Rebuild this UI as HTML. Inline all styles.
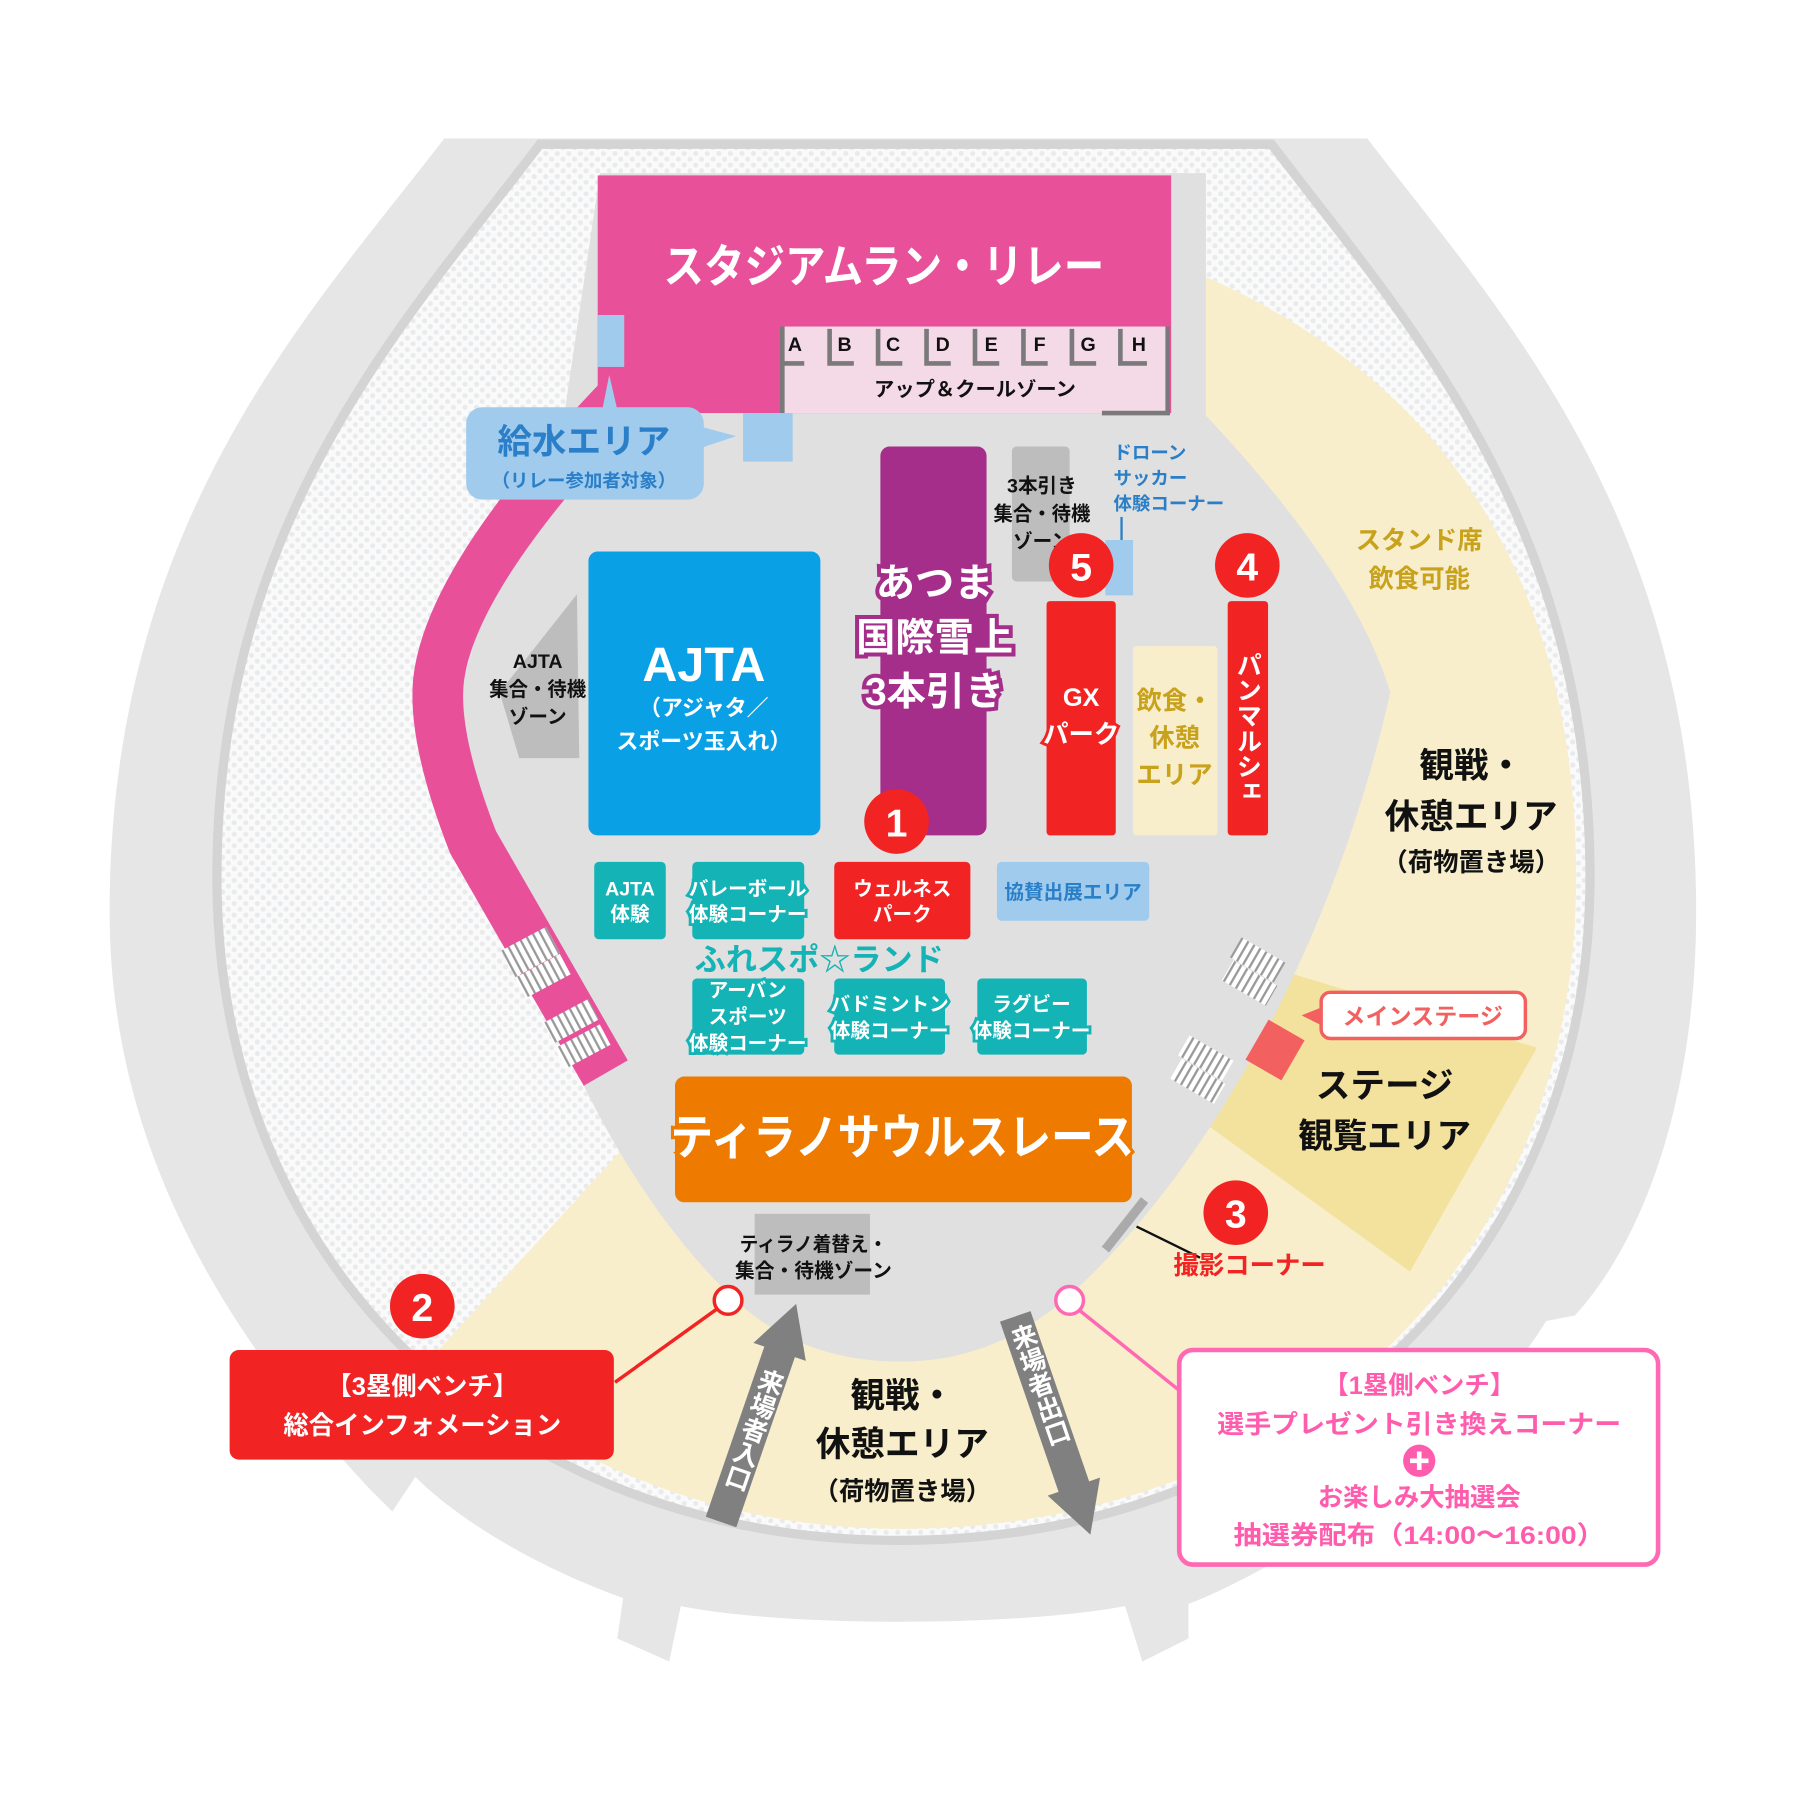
<!DOCTYPE html>
<html><head><meta charset="utf-8"><style>
html,body{margin:0;padding:0;background:#fff;}
svg{display:block;}
text{font-family:"Liberation Sans","Noto Sans CJK JP",sans-serif;font-weight:bold;text-anchor:middle;}
</style></head><body>
<svg width="1800" height="1800" viewBox="0 0 1560 1560" xmlns="http://www.w3.org/2000/svg">
<defs>
<pattern id="dots" width="10" height="10" patternUnits="userSpaceOnUse">
<rect width="10" height="10" fill="#fafafa"/><circle cx="3" cy="3" r="2.2" fill="#e8eaec"/><circle cx="8" cy="8" r="2.2" fill="#e8eaec"/>
</pattern>
<pattern id="stripe" width="6" height="6" patternUnits="userSpaceOnUse">
<rect width="6" height="6" fill="#fff"/><rect width="2" height="6" fill="#999"/>
</pattern>
</defs>
<rect width="1560" height="1560" fill="#fff"/>
<path d="M385,120 L1185,120 C1300,270 1470,450 1470,790 C1470,960 1420,1080 1365,1140 L1340,1145 C1250,1290 1060,1380 1030,1390 L1030,1420 L990,1440 L975,1392 C880,1410 680,1410 590,1392 L580,1440 L535,1420 L540,1385 C470,1360 400,1320 360,1280 L340,1310 L320,1290 C180,1140 95,980 95,790 C95,450 270,270 385,120 Z" fill="#e6e6e6"/>
<path d="M468,125 L1102,125 C1220,280 1378,450 1378,760 C1378,1100 1120,1335 780,1335 C440,1335 188,1100 188,760 C188,450 350,280 468,125 Z" fill="url(#dots)" stroke="#d4d4d4" stroke-width="8"/>
<path d="M1045,240 C1250,330 1366,500 1366,760 C1366,1100 1120,1325 780,1325 C600,1325 460,1250 380,1170 L545,990 L1045,360 Z" fill="#f8eecb"/>
<path d="M1100,838 L1332,908 L1222,1102 L1042,972 Z" fill="#f3e29d"/>
<path d="M520,150 L1045,150 L1045,360 C1120,440 1180,520 1205,600 C1160,800 1060,1000 930,1120 C880,1165 830,1180 780,1180 C720,1180 670,1160 630,1120 C560,1050 510,960 470,860 L390,640 C410,540 440,470 480,420 Z" fill="#e0e0e0"/>
<path d="M538,345 Q390,500 380,590 Q375,640 410,730 L525,930" fill="none" stroke="#e8519a" stroke-width="44"/>
<g transform="rotate(-28 460 825)"><rect x="438" y="812" width="44" height="26" fill="url(#stripe)"/></g>
<g transform="rotate(-28 470 845)"><rect x="448" y="836" width="44" height="20" fill="url(#stripe)"/></g>
<g transform="rotate(-28 495 885)"><rect x="473" y="875" width="44" height="20" fill="url(#stripe)"/></g>
<g transform="rotate(-28 505 907)"><rect x="483" y="897" width="44" height="20" fill="url(#stripe)"/></g>
<g transform="rotate(30 1090 832)"><rect x="1068" y="822" width="44" height="20" fill="url(#stripe)"/></g>
<g transform="rotate(30 1083 852)"><rect x="1061" y="842" width="44" height="20" fill="url(#stripe)"/></g>
<g transform="rotate(30 1045 917)"><rect x="1023" y="907" width="44" height="20" fill="url(#stripe)"/></g>
<g transform="rotate(30 1038 937)"><rect x="1016" y="927" width="44" height="20" fill="url(#stripe)"/></g>
<rect x="1015" y="152" width="30" height="208" fill="#e0e0e0"/>
<rect x="518" y="152" width="497" height="206" fill="#e8519a"/>
<rect x="678" y="283" width="334" height="75" fill="#f4d9e7"/>
<g fill="none" stroke="#7a7a7a" stroke-width="4">
<path d="M678,283 L678,358"/><path d="M1012,283 L1012,358 L955,358"/>
<path d="M678,315 L697,315 M719,285 L719,315 L740,315 M761,285 L761,315 L782,315 M803,285 L803,315 L824,315 M845,285 L845,315 L866,315 M887,285 L887,315 L908,315 M929,285 L929,315 L950,315 M971,285 L971,315 L994,315"/>
</g>
<g font-size="17" fill="#111">
<text x="689" y="304">A</text><text x="732" y="304">B</text><text x="774" y="304">C</text><text x="817" y="304">D</text><text x="859" y="304">E</text><text x="901" y="304">F</text><text x="943" y="304">G</text><text x="987" y="304">H</text>
<text x="845" y="343" font-size="17" textLength="175" lengthAdjust="spacingAndGlyphs">アップ＆クールゾーン</text>
</g>
<text x="766" y="245" font-size="40" fill="#fff" textLength="382" lengthAdjust="spacingAndGlyphs">スタジアムラン・リレー</text>
<rect x="518" y="273" width="23" height="45" fill="#a0cbed"/>
<rect x="644" y="358" width="43" height="42" fill="#a0cbed"/>
<path d="M522,355 L528,325 L535,355 Z M608,370 L638,378 L608,388 Z" fill="#a0cbed"/>
<rect x="404" y="353" width="206" height="80" rx="14" fill="#a0cbed"/>
<text x="506" y="393" font-size="30" fill="#2a7fc8">給水エリア</text>
<text x="506" y="422" font-size="16" fill="#2a7fc8">（リレー参加者対象）</text>
<rect x="763" y="387" width="92" height="337" rx="8" fill="#a42e8a"/>
<g font-size="34" fill="#fff" stroke="#a42e8a" stroke-width="7" paint-order="stroke">
<text x="810" y="517">あつま</text><text x="810" y="564">国際雪上</text><text x="810" y="611">3本引き</text></g>
<rect x="877" y="387" width="50" height="117" rx="4" fill="#bdbdbd"/>
<g font-size="17" fill="#111"><text x="903" y="427">3本引き</text><text x="903" y="451" textLength="84" lengthAdjust="spacingAndGlyphs">集合・待機</text><text x="903" y="475">ゾーン</text></g>
<g font-size="16" fill="#2a7fc8"><text x="965" y="398" style="text-anchor:start">ドローン</text><text x="965" y="420" style="text-anchor:start">サッカー</text><text x="965" y="442" style="text-anchor:start">体験コーナー</text></g>
<line x1="972" y1="448" x2="972" y2="482" stroke="#2a7fc8" stroke-width="2"/>
<rect x="958" y="468" width="24" height="48" fill="#a0cbed"/>
<rect x="907" y="521" width="60" height="203" rx="3" fill="#f22323"/>
<g font-size="22" fill="#fff" stroke="#f22323" stroke-width="5" paint-order="stroke"><text x="937" y="612">GX</text><text x="937" y="644">パーク</text></g>
<rect x="982" y="560" width="73" height="164" rx="3" fill="#f8eecb"/>
<g font-size="22" fill="#c9a21c"><text x="1018" y="615">飲食・</text><text x="1018" y="647">休憩</text><text x="1018" y="679">エリア</text></g>
<rect x="1064" y="521" width="35" height="203" rx="3" fill="#f22323"/>
<text x="1081" y="565" font-size="22" fill="#fff" style="writing-mode:vertical-rl;text-anchor:start">パンマルシェ</text>
<circle cx="937" cy="490" r="28" fill="#f22323"/><text x="937" y="503" font-size="34" fill="#fff">5</text>
<circle cx="1081" cy="490" r="28" fill="#f22323"/><text x="1081" y="503" font-size="34" fill="#fff">4</text>
<rect x="510" y="478" width="201" height="246" rx="8" fill="#0aa0e6"/>
<text x="610" y="590" font-size="42" fill="#fff">AJTA</text>
<text x="610" y="620" font-size="19" fill="#fff">（アジャタ／</text>
<text x="610" y="649" font-size="19" fill="#fff">スポーツ玉入れ）</text>
<path d="M500,515 L502,657 L450,657 L433,600 Z" fill="#bdbdbd"/>
<g font-size="17" fill="#111"><text x="466" y="579">AJTA</text><text x="466" y="603" textLength="84" lengthAdjust="spacingAndGlyphs">集合・待機</text><text x="466" y="627">ゾーン</text></g>
<circle cx="777" cy="712" r="28" fill="#f22323"/><text x="777" y="725" font-size="34" fill="#fff">1</text>
<rect x="515" y="747" width="62" height="67" rx="4" fill="#14b3b5"/>
<rect x="600" y="747" width="97" height="67" rx="4" fill="#14b3b5"/>
<rect x="723" y="747" width="118" height="67" rx="4" fill="#f22323"/>
<rect x="864" y="747" width="132" height="51" rx="4" fill="#a0cbed"/>
<rect x="600" y="848" width="97" height="66" rx="4" fill="#14b3b5"/>
<rect x="723" y="848" width="96" height="66" rx="4" fill="#14b3b5"/>
<rect x="847" y="848" width="95" height="66" rx="4" fill="#14b3b5"/>
<g font-size="17" fill="#fff" stroke="#14b3b5" stroke-width="5" paint-order="stroke">
<text x="546" y="776">AJTA</text><text x="546" y="798">体験</text>
<text x="648" y="776">バレーボール</text><text x="648" y="798">体験コーナー</text>
<text x="648" y="864">アーバン</text><text x="648" y="887">スポーツ</text><text x="648" y="910">体験コーナー</text>
<text x="771" y="876">バドミントン</text><text x="771" y="899">体験コーナー</text>
<text x="894" y="876">ラグビー</text><text x="894" y="899">体験コーナー</text>
</g>
<g font-size="17" fill="#fff"><text x="782" y="776">ウェルネス</text><text x="782" y="798">パーク</text></g>
<text x="930" y="779" font-size="17" fill="#2a7fc8">協賛出展エリア</text>
<text x="710" y="841" font-size="27" fill="#14b3b5" stroke="#e0e0e0" stroke-width="4" paint-order="stroke">ふれスポ☆ランド</text>
<rect x="585" y="933" width="396" height="109" rx="8" fill="#ee7a00"/>
<text x="782" y="1000" font-size="42" fill="#fff" stroke="#ee7a00" stroke-width="6" paint-order="stroke" textLength="402" lengthAdjust="spacingAndGlyphs">ティラノサウルスレース</text>
<rect x="654" y="1052" width="100" height="70" fill="#bdbdbd"/>
<g font-size="17" fill="#111"><text x="705" y="1084" textLength="128" lengthAdjust="spacingAndGlyphs">ティラノ着替え・</text><text x="705" y="1107" textLength="136" lengthAdjust="spacingAndGlyphs">集合・待機ゾーン</text></g>
<line x1="958" y1="1083" x2="992" y2="1040" stroke="#aaa" stroke-width="8"/>
<line x1="985" y1="1063" x2="1040" y2="1090" stroke="#111" stroke-width="2"/>
<circle cx="1071" cy="1051" r="28" fill="#f22323"/><text x="1071" y="1064" font-size="34" fill="#fff">3</text>
<text x="1083" y="1104" font-size="22" fill="#f22323">撮影コーナー</text>
<rect x="1087" y="890" width="36" height="40" fill="#f26060" transform="rotate(30 1105 910)"/>
<path d="M1148,872 L1128,880 L1148,890 Z" fill="#f26060"/>
<rect x="1145" y="860" width="177" height="40" rx="8" fill="#fff" stroke="#f26060" stroke-width="3"/>
<text x="1233" y="888" font-size="20" fill="#f26060">メインステージ</text>
<g font-size="30" fill="#111"><text x="1200" y="951">ステージ</text><text x="1200" y="995">観覧エリア</text>
<text x="1275" y="674">観戦・</text><text x="1275" y="718">休憩エリア</text>
<text x="782" y="1220">観戦・</text><text x="782" y="1262">休憩エリア</text></g>
<text x="1275" y="755" font-size="22" fill="#111">（荷物置き場）</text>
<text x="782" y="1300" font-size="22" fill="#111">（荷物置き場）</text>
<g font-size="22" fill="#c9a21c"><text x="1230" y="476">スタンド席</text><text x="1230" y="509">飲食可能</text></g>
<g transform="translate(690,1130) rotate(19)">
<path d="M0,0 L24,44 L14,44 L14,200 L-14,200 L-14,44 L-24,44 Z" fill="#808080"/>
<text x="0" y="60" font-size="22" fill="#fff" style="writing-mode:vertical-rl;text-anchor:start">来場者入口</text>
</g>
<g transform="translate(945,1330) rotate(-19)">
<path d="M0,0 L24,-44 L14,-44 L14,-200 L-14,-200 L-14,-44 L-24,-44 Z" fill="#808080"/>
<text x="0" y="-192" font-size="22" fill="#fff" style="writing-mode:vertical-rl;text-anchor:start">来場者出口</text>
</g>
<line x1="622" y1="1134" x2="533" y2="1198" stroke="#f22323" stroke-width="3"/>
<line x1="936" y1="1136" x2="1022" y2="1205" stroke="#ff69b4" stroke-width="3"/>
<circle cx="631" cy="1127" r="12" fill="#fff" stroke="#f22323" stroke-width="3"/>
<circle cx="927" cy="1127" r="12" fill="#fff" stroke="#ff69b4" stroke-width="3"/>
<circle cx="366" cy="1132" r="28" fill="#f22323"/><text x="366" y="1145" font-size="34" fill="#fff">2</text>
<rect x="199" y="1170" width="333" height="95" rx="8" fill="#f22323"/>
<g font-size="22" fill="#fff"><text x="366" y="1209">【3塁側ベンチ】</text><text x="366" y="1243">総合インフォメーション</text></g>
<rect x="1022" y="1170" width="415" height="186" rx="12" fill="#fff" stroke="#ff69b4" stroke-width="4"/>
<g font-size="22" fill="#ff5cae"><text x="1230" y="1208">【1塁側ベンチ】</text><text x="1230" y="1242" textLength="350" lengthAdjust="spacingAndGlyphs">選手プレゼント引き換えコーナー</text>
<text x="1230" y="1305">お楽しみ大抽選会</text><text x="1230" y="1338" textLength="322" lengthAdjust="spacingAndGlyphs">抽選券配布（14:00〜16:00）</text></g>
<circle cx="1230" cy="1266" r="14" fill="#ff5cae"/>
<path d="M1230,1258 V1274 M1222,1266 H1238" stroke="#fff" stroke-width="4"/>
</svg>
</body></html>
